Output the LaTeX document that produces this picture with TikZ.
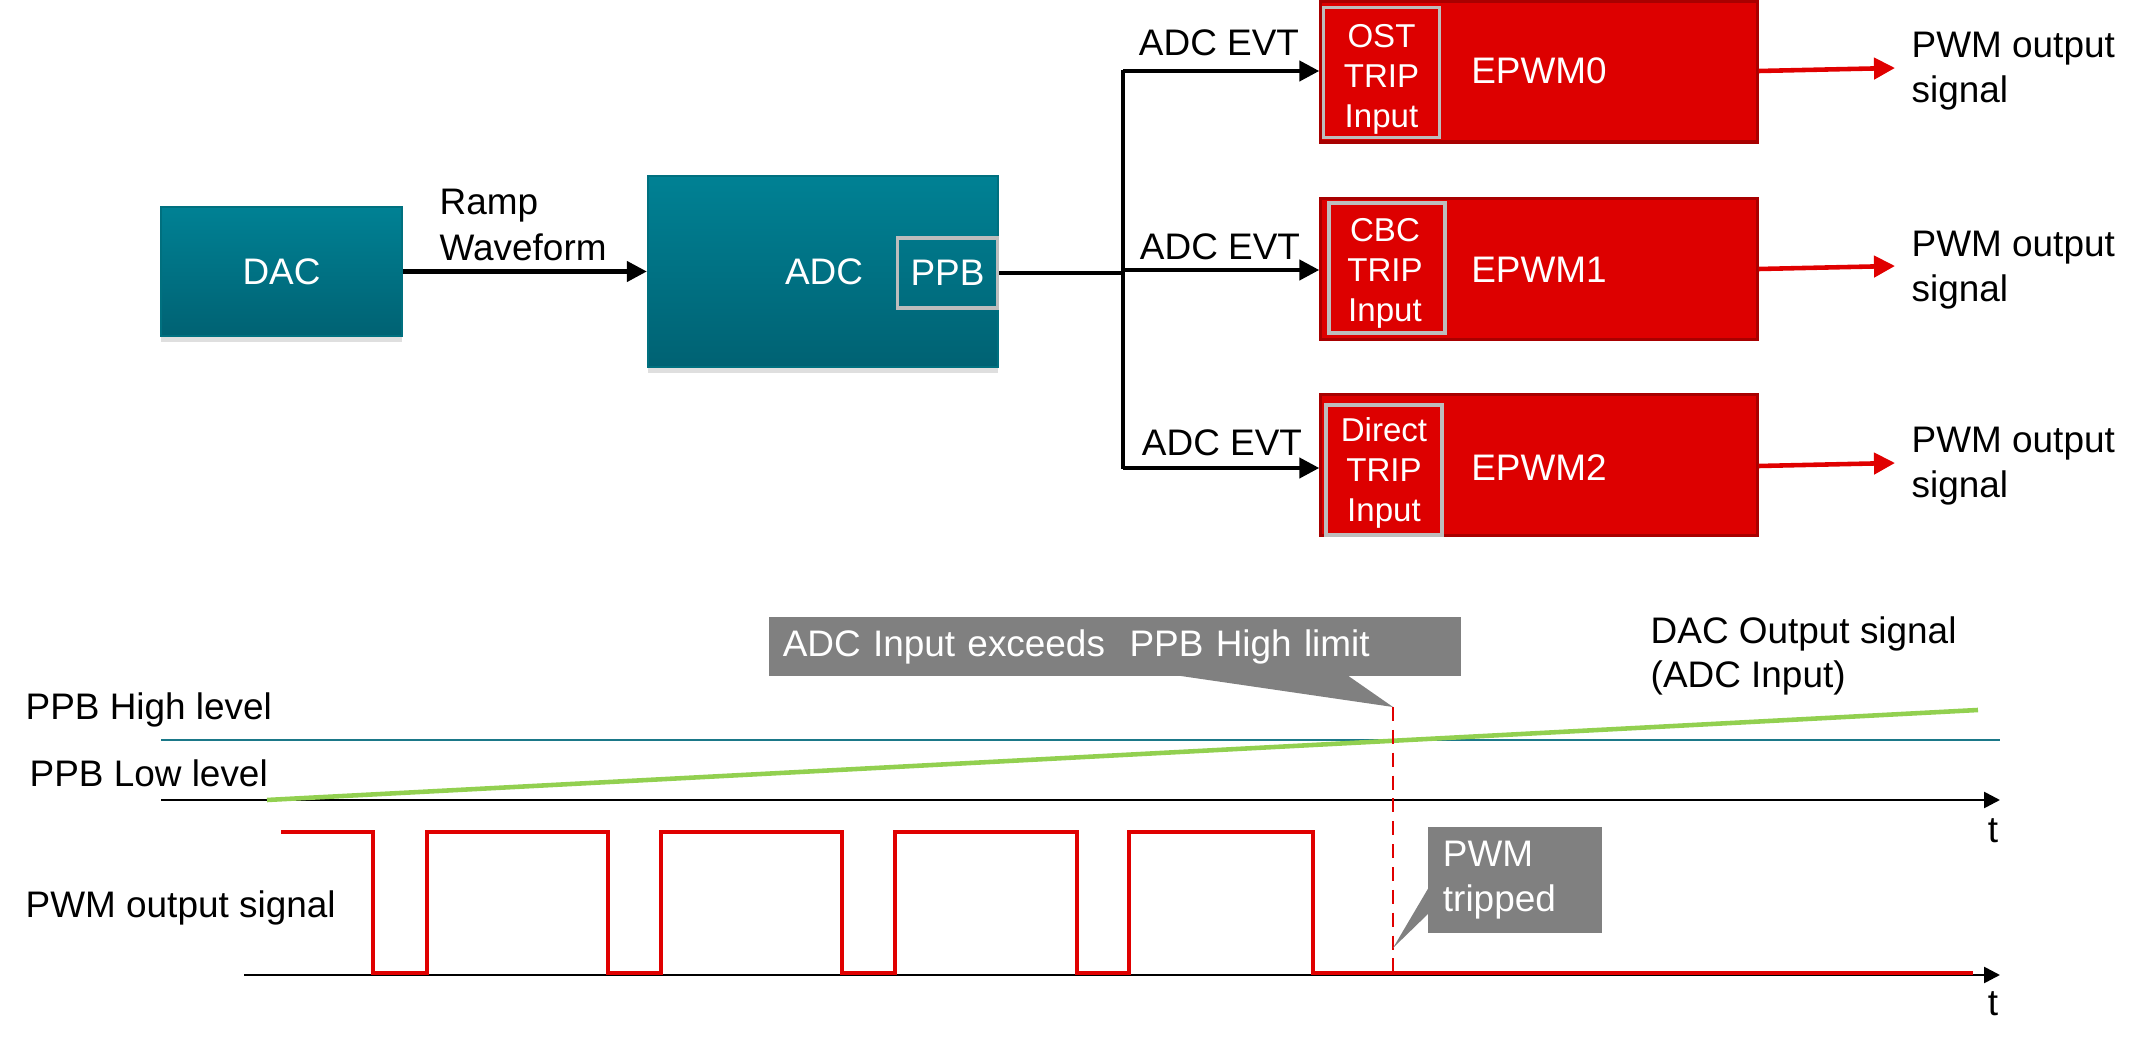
\documentclass[tikz,border=0pt]{standalone}
\usepackage{fontspec}
\setmainfont{Liberation Sans}
\usetikzlibrary{arrows.meta,shadows,calc}
\definecolor{tealtop}{HTML}{008194}
\definecolor{tealbot}{HTML}{006273}
\definecolor{tealedge}{HTML}{00707F}
\definecolor{epred}{HTML}{DD0000}
\definecolor{epedge}{HTML}{A80000}
\definecolor{innergray}{HTML}{BDBDBD}
\definecolor{callgray}{HTML}{808080}
\definecolor{rampgreen}{HTML}{92D050}
\definecolor{hiteal}{HTML}{1B7888}
\definecolor{sigred}{HTML}{E00000}
\begin{document}
\begin{tikzpicture}[x=0.01cm,y=-0.01cm,
  every node/.style={font=\fontsize{10.5}{12.6}\selectfont, inner sep=0pt},
  tealbox/.style={draw=tealedge, line width=0.6pt, top color=tealtop, bottom color=tealbot,
     text=white, drop shadow={shadow xshift=0pt, shadow yshift=-0.06cm, opacity=0.25}},
  ppbbox/.style={draw=innergray, line width=0.9pt, text=white, minimum width=1.0cm, minimum height=0.7cm},
  epbox/.style={draw=epedge, line width=0.9pt, fill=epred, minimum width=4.36cm, minimum height=1.41cm},
  inbox/.style={draw=innergray, line width=0.9pt, minimum width=1.16cm, minimum height=1.3cm},
  intext/.style={text=white, align=center, font=\fontsize{9.4}{11.4}\selectfont},
  eplabel/.style={text=white},
  blk/.style={line width=1.25pt, draw=black},
  blkarrow/.style={blk, -{Triangle[length=0.2cm,width=0.2cm]}},
  redarrow/.style={line width=1.3pt, draw=sigred, -{Triangle[length=0.21cm,width=0.21cm]}},
  axis/.style={line width=0.75pt, draw=black, -{Triangle[length=0.16cm,width=0.16cm]}},
  callout/.style={fill=callgray, text=white, align=left},
  lbl/.style={anchor=west, align=left}
]
\useasboundingbox (0,0) rectangle (2153,1049);

% ---------- top block diagram ----------
\node[tealbox, minimum width=2.41cm, minimum height=1.29cm] (dac) at (281.5,271.5) {DAC};
\node[tealbox, minimum width=3.50cm, minimum height=1.91cm] (adc) at (823,271.5) {};
\node[text=white] (adctxt) at (824,272) {ADC};
\node[ppbbox] (ppb) at (947.5,273) {PPB};

\draw[blkarrow] (dac.east) -- (adc.west);
\node[lbl] (ramp) at (439,225) {Ramp\\[0.5pt]Waveform};

\node[epbox] (e0) at (1539,71.5) {};
\node[epbox] (e1) at (1539,269) {};
\node[epbox] (e2) at (1539,465) {};

\node[inbox] (i0) at (1381.5,72.5) {};
\node[inbox] (i1) at (1387,268) {};
\node[inbox] (i2) at (1384,470) {};
\node[intext] (it0) at (1381.5,79) {OST\\TRIP\\Input};
\node[intext] (it1) at (1385,273) {CBC\\TRIP\\Input};
\node[intext] (it2) at (1384,473) {Direct\\TRIP\\Input};

\node[eplabel] (l0) at (1539,71) {EPWM0};
\node[eplabel] (l1) at (1539,270) {EPWM1};
\node[eplabel] (l2) at (1539,468) {EPWM2};

\coordinate (bus) at (1123,273);
\coordinate (b0) at (1123,71);
\coordinate (b1) at (1123,270);
\coordinate (b2) at (1123,468);
\draw[blk] (ppb.east) -- (bus);
\draw[blk] ($(b0)+(0,-1)$) -- ($(b2)+(0,1)$);
\draw[blkarrow] (b0) -- (e0.west |- b0);
\draw[blkarrow] (b1) -- (e1.west |- b1);
\draw[blkarrow] (b2) -- (e2.west |- b2);

\node (evt0) at (1219,43) {ADC EVT};
\node (evt1) at (1220,247) {ADC EVT};
\node (evt2) at (1222,443) {ADC EVT};

\coordinate (o0) at (1895,68);
\coordinate (o1) at (1895,266);
\coordinate (o2) at (1895,463);
\draw[redarrow] (e0.east |- 0,71) -- (o0);
\draw[redarrow] (e1.east |- 0,269) -- (o1);
\draw[redarrow] (e2.east |- 0,466) -- (o2);
\node[lbl] (p0) at (1911,71) {PWM output\\signal};
\node[lbl] (p1) at (1911,270) {PWM output\\signal};
\node[lbl] (p2) at (1911,466) {PWM output\\signal};

% ---------- timing diagram ----------
\coordinate (hs) at (161,740);
\coordinate (he) at (2000,740);
\draw[draw=hiteal, line width=0.85pt] (hs) -- (he);

\coordinate (a1s) at (161,800);
\coordinate (a1e) at (2000,800);
\draw[axis] (a1s) -- (a1e);
\coordinate (a2s) at (244,975);
\coordinate (a2e) at (2000,975);
\draw[axis] (a2s) -- (a2e);

\coordinate (gs) at (267,800);
\coordinate (ge) at (1978,710);
\draw[draw=rampgreen, line width=1.3pt] (gs) -- (ge);

\draw[draw=sigred, line width=1.2pt, line join=miter]
  (281,832) -- (373,832) -- (373,973) -- (427,973) -- (427,832) -- (608,832) -- (608,973)
  -- (661,973) -- (661,832) -- (842,832) -- (842,973) -- (895,973) -- (895,832)
  -- (1077,832) -- (1077,973) -- (1129,973) -- (1129,832) -- (1313,832) -- (1313,973)
  -- (1973,973);

\coordinate (trip) at (1393,707);
\coordinate (tripb) at (1393,977);
\draw[draw=sigred, line width=0.45pt, dash pattern=on 4pt off 2.5pt] (trip) -- (tripb);

\node[callout, minimum width=6.92cm, minimum height=0.59cm, text width=6.64cm]
  (c1) at (1115,646.5) {ADC Input exceeds~ PPB High limit};
\fill[callgray] (1174,675) -- (trip) -- (1347,675) -- cycle;

\node[callout, minimum width=1.74cm, minimum height=1.06cm, text width=1.44cm]
  (c2) at (1515,880) {PWM\\tripped};
\fill[callgray] (1429,887) -- (1393,948) -- (1429,913) -- cycle;

\node[lbl] (hl) at (25,710) {PPB High level};
\node[lbl] (ll) at (29,773) {PPB Low level};
\node[lbl] (pw) at (25,908) {PWM output signal};
\node[lbl] (dacout) at (1650,656) {DAC Output signal\\(ADC Input)};
\node (tt1) at (1993,831) {t};
\node (tt2) at (1993,1004) {t};
\end{tikzpicture}
\end{document}
